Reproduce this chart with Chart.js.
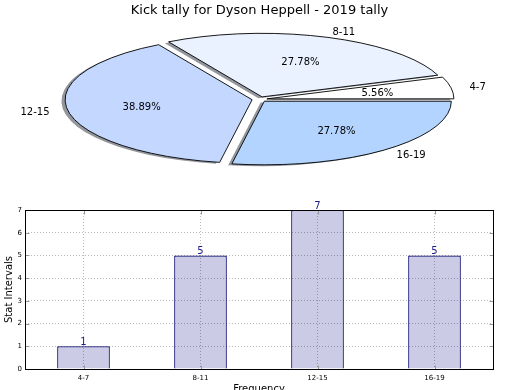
<!DOCTYPE html>
<html>
<head>
<meta charset="utf-8">
<script src="https://cdn.jsdelivr.net/npm/chart.js@4/dist/chart.umd.min.js"></script>
<style>
  html, body { margin: 0; padding: 0; width: 520px; height: 390px; overflow: hidden; background: #fff; }
  #pieBox { position: absolute; left: 0; top: 0; width: 520px; height: 180px; }
  #barBox { position: absolute; left: 0; top: 200px; width: 520px; height: 206px; }
</style>
</head>
<body>
<div id="pieBox"><canvas id="pie"></canvas></div>
<div id="barBox"><canvas id="bar"></canvas></div>
<script>
/* data */
const TITLE = 'Kick tally for Dyson Heppell - 2019 tally';
const intervals = ['4-7', '8-11', '12-15', '16-19'];
const kicks = [1, 5, 7, 5];
const yTicks = [0, 1, 2, 3, 4, 5, 6, 7];
const sliceColors = ['#ffffff', '#eaf2ff', '#c4d8ff', '#b3d4ff'];

/* pie look: old matplotlib pie on a non-equal axes -> squashed ellipse */
const PIE_R = 187, SQUASH = 0.34, EXPLODE = 7.5, SHADOW = [-3.7, 1.3];

Chart.defaults.font.family = 'DejaVu Sans';
Chart.defaults.color = '#000';
Chart.defaults.animation = false;

const total = kicks.reduce((s, v) => s + v, 0);
const rev = (arr) => arr.slice().reverse();   // chart.js goes clockwise, matplotlib counter-clockwise

// put an arc into ellipse space (shift is screen px, explode is along the slice middle)
function squash(ctx, a, dx, dy) {
  const h = (a.startAngle + a.endAngle) / 2;
  ctx.translate(dx, dy);
  ctx.translate(a.x, a.y); ctx.scale(1, SQUASH); ctx.translate(-a.x, -a.y);
  ctx.translate(Math.cos(h) * EXPLODE, Math.sin(h) * EXPLODE);
}
function wedgePath(ctx, a, dx, dy) {
  ctx.save();
  squash(ctx, a, dx, dy);
  ctx.beginPath();
  ctx.moveTo(a.x, a.y);
  ctx.arc(a.x, a.y, a.outerRadius, a.startAngle, a.endAngle);
  ctx.closePath();
  ctx.restore();            // path keeps the squashed shape, stroke stays 1px
}

const squashedPie = {
  id: 'squashedPie',
  beforeDatasetDraw(chart) {
    const ctx = chart.ctx, arcs = chart.getDatasetMeta(0).data;
    ctx.save();
    ctx.fillStyle = 'rgba(59,64,77,0.55)';
    arcs.forEach((a) => { wedgePath(ctx, a, SHADOW[0], SHADOW[1]); ctx.fill(); });
    arcs.forEach((a) => { ctx.save(); squash(ctx, a, 0, 0); a.draw(ctx); ctx.restore(); });
    ctx.strokeStyle = '#000'; ctx.lineWidth = 0.9; ctx.lineJoin = 'miter';
    arcs.forEach((a) => { wedgePath(ctx, a, 0, 0); ctx.stroke(); });
    ctx.restore();
    return false;
  },
  afterDraw(chart) {
    const ctx = chart.ctx, arcs = chart.getDatasetMeta(0).data, labels = chart.data.labels, vals = chart.data.datasets[0].data;
    ctx.save();
    ctx.fillStyle = '#000'; ctx.font = '10px "DejaVu Sans"'; ctx.textBaseline = 'middle';
    arcs.forEach((a, i) => {
      const h = (a.startAngle + a.endAngle) / 2, c = Math.cos(h), s = Math.sin(h);
      const lr = 1.1 * a.outerRadius + EXPLODE, pr = 0.6 * a.outerRadius + EXPLODE;
      ctx.textAlign = c > 0 ? 'left' : 'right';
      ctx.fillText(labels[i], a.x + c * lr, a.y + s * lr * SQUASH + 1);
      ctx.textAlign = 'center';
      ctx.fillText((vals[i] / total * 100).toFixed(2) + '%', a.x + c * pr, a.y + s * pr * SQUASH + 1);
    });
    ctx.restore();
  }
};

new Chart(document.getElementById('pie'), {
  type: 'pie',
  data: { labels: rev(intervals), datasets: [{ data: rev(kicks), backgroundColor: rev(sliceColors), borderWidth: 0 }] },
  options: {
    responsive: true, maintainAspectRatio: false, events: [],
    radius: PIE_R, rotation: 90,
    layout: { padding: { right: 1, bottom: 3 } },
    plugins: {
      legend: { display: false }, tooltip: { enabled: false },
      title: { display: true, text: TITLE, color: '#000', font: { size: 13, weight: 'normal' }, padding: { top: 3, bottom: 3 } }
    }
  },
  plugins: [squashedPie]
});

/* bar chart: classic matplotlib frame, dotted grid on top of the bars */
const frame = {
  id: 'frame',
  afterDraw(chart) {
    const { ctx, chartArea: a, scales } = chart;
    const l = Math.round(a.left) + 0.5, r = Math.round(a.right) + 0.5, t = Math.round(a.top) + 0.5, b = Math.round(a.bottom) + 0.5;
    ctx.save();
    ctx.strokeStyle = '#999'; ctx.lineWidth = 1;
    ctx.beginPath();
    yTicks.forEach((v) => { const y = Math.round(scales.y.getPixelForValue(v)) + 0.5; ctx.moveTo(l, y); ctx.lineTo(l + 4, y); ctx.moveTo(r, y); ctx.lineTo(r - 4, y); });
    intervals.forEach((_, i) => { const x = Math.round(scales.x.getPixelForValue(i)) + 0.5; ctx.moveTo(x, t); ctx.lineTo(x, t + 4); ctx.moveTo(x, b); ctx.lineTo(x, b - 4); });
    ctx.stroke();
    ctx.strokeStyle = '#000';
    ctx.strokeRect(l, t, r - l, b - t);
    // value on top of each bar
    ctx.fillStyle = '#1c1c8a'; ctx.font = '10px "DejaVu Sans"'; ctx.textAlign = 'center'; ctx.textBaseline = 'alphabetic';
    chart.getDatasetMeta(0).data.forEach((bar, i) => ctx.fillText(String(kicks[i]), bar.x, bar.y - 1));
    ctx.restore();
  }
};

const gridLook = { offset: false, drawTicks: false, color: 'rgba(0,0,0,0.28)', lineWidth: 1, z: 1 };

new Chart(document.getElementById('bar'), {
  type: 'bar',
  data: { labels: intervals, datasets: [{ data: kicks, backgroundColor: '#cbcbe6', borderColor: '#00006e', borderWidth: 1.2, barPercentage: 0.45, categoryPercentage: 1 }] },
  options: {
    responsive: true, maintainAspectRatio: false, events: [],
    layout: { padding: { top: 10, right: 27, left: 0, bottom: 0 } },
    plugins: { legend: { display: false }, tooltip: { enabled: false } },
    scales: {
      x: {
        offset: true, grid: gridLook, border: { display: false, dash: [1, 2] },
        ticks: { font: { size: 7 }, color: '#000', padding: 5 },
        title: { display: true, text: 'Frequency', color: '#000', font: { size: 10 }, padding: { top: 0, bottom: 11 } },
        afterFit: (s) => { s.height = 37; }
      },
      y: {
        min: 0, max: 7, grid: gridLook, border: { display: false, dash: [1, 2] },
        afterBuildTicks: (s) => { s.ticks = yTicks.map((v) => ({ value: v })); },
        ticks: { font: { size: 7 }, color: '#000', padding: 3 },
        title: { display: true, text: 'Stat Intervals', color: '#000', font: { size: 10 }, padding: { top: 3, bottom: 0 } },
        afterFit: (s) => { s.width = 25; }
      }
    }
  },
  plugins: [frame]
});
</script>
</body>
</html>
